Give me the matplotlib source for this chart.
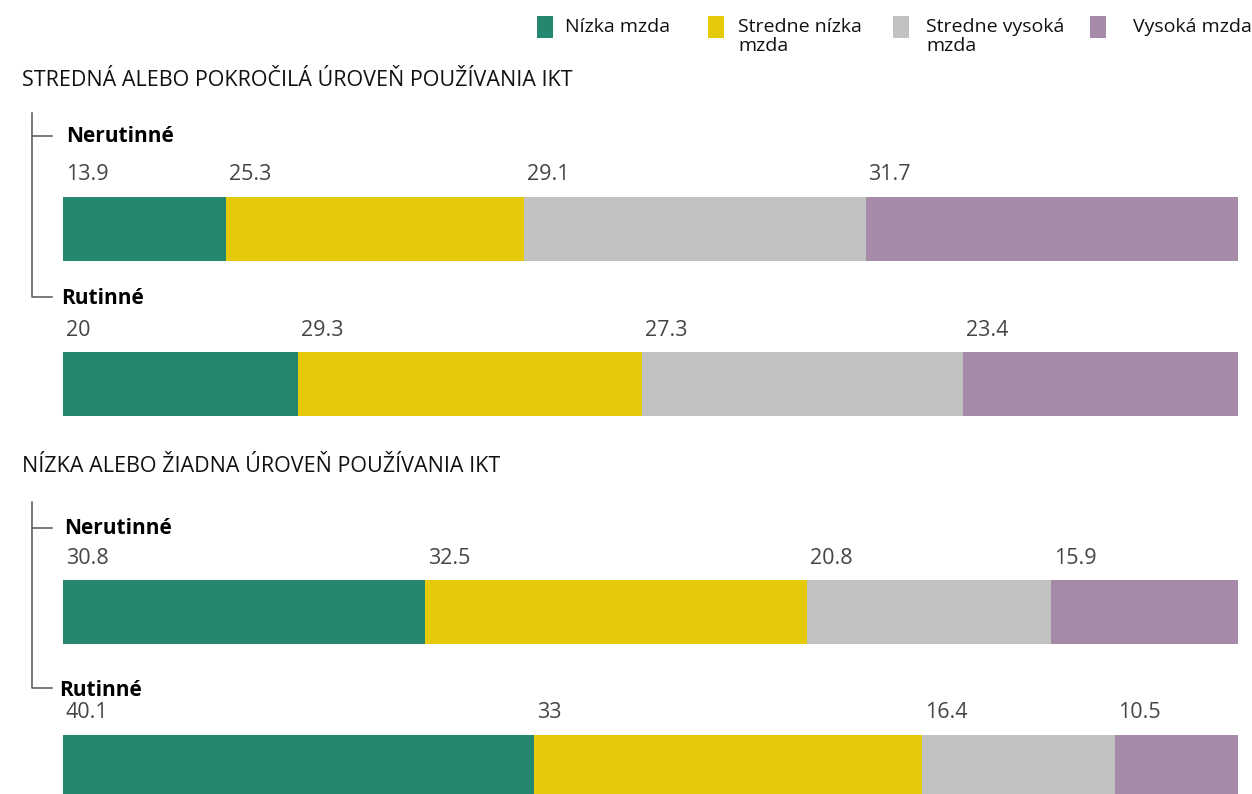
import matplotlib
matplotlib.use("Agg")
import matplotlib.pyplot as plt
import numpy as np
from matplotlib.patches import Rectangle

plt.rcParams["font.family"] = ["Open Sans", "DejaVu Sans"]

# Wage group shares (%) for each bar, top to bottom
SERIES = ["Nízka mzda", "Stredne nízka\nmzda", "Stredne vysoká\nmzda", "Vysoká mzda"]
COLORS = ["#25876f", "#e5c90b", "#c2c2c2", "#a68ba9"]
GROUP_LABELS = ["Nerutinné", "Rutinné", "Nerutinné", "Rutinné"]
SECTION_TITLES = [
    "STREDNÁ ALEBO POKROČILÁ ÚROVEŇ POUŽÍVANIA IKT",
    "NÍZKA ALEBO ŽIADNA ÚROVEŇ POUŽÍVANIA IKT",
]
low_wage = [13.9, 20.0, 30.8, 40.1]
mid_low_wage = [25.3, 29.3, 32.5, 33.0]
mid_high_wage = [29.1, 27.3, 20.8, 16.4]
high_wage = [31.7, 23.4, 15.9, 10.5]
value_text = [
    ["13.9", "25.3", "29.1", "31.7"],
    ["20", "29.3", "27.3", "23.4"],
    ["30.8", "32.5", "20.8", "15.9"],
    ["40.1", "33", "16.4", "10.5"],
]

# layout in pixel units (figure is 1252 x 794 px)
W, H = 1252, 794
BAR_LEFT, BAR_RIGHT = 63, 1238
BAR_CENTERS = [229, 384, 612, 767]
BAR_HEIGHT = 64
LABEL_GAP = 22
GROUP_LABEL_POS = [(66, 136), (61, 298), (64, 528), (59, 691)]
SECTION_POS = [(22, 81), (22, 467)]
BRACKETS = [(113, 136, 297), (502, 528, 688)]
LEGEND_POS = [(537, 565), (708, 738), (893, 926), (1090, 1133)]

fig = plt.figure(figsize=(W / 100, H / 100), dpi=100)

# canvas axes for free text and guide lines, in pixel coordinates
canvas = fig.add_axes([0, 0, 1, 1])
canvas.set_xlim(0, W)
canvas.set_ylim(H, 0)
canvas.axis("off")

# bar axes: x in percent, y in pixel rows
ax = fig.add_axes([BAR_LEFT / W, 0, (BAR_RIGHT - BAR_LEFT) / W, 1])
ax.set_xlim(0, 100)
ax.set_ylim(H, 0)
ax.axis("off")

data = np.array([low_wage, mid_low_wage, mid_high_wage, high_wage])
lefts = np.zeros(len(BAR_CENTERS))
for i, (vals, color) in enumerate(zip(data, COLORS)):
    ax.barh(BAR_CENTERS, vals, left=lefts, height=BAR_HEIGHT, color=color, linewidth=0)
    for j, (left, y) in enumerate(zip(lefts, BAR_CENTERS)):
        ax.text(left + 0.25, y - BAR_HEIGHT / 2 - LABEL_GAP, value_text[j][i],
                ha="left", va="center", fontsize=15.5, color="#454545")
    lefts = lefts + vals

for title, (x, y) in zip(SECTION_TITLES, SECTION_POS):
    canvas.text(x, y, title, ha="left", va="center", fontsize=15.5, color="#111111")

for label, (x, y) in zip(GROUP_LABELS, GROUP_LABEL_POS):
    canvas.text(x, y, label, ha="left", va="center", fontsize=15, fontweight="bold", color="black")

for top, first, last in BRACKETS:
    canvas.plot([32, 32, 52], [top, last, last], color="#555555", linewidth=1.1)
    canvas.plot([32, 52], [first, first], color="#555555", linewidth=1.1)

# legend
for name, color, (px, tx) in zip(SERIES, COLORS, LEGEND_POS):
    canvas.add_patch(Rectangle((px, 16), 16, 22, color=color, linewidth=0))
    canvas.text(tx, 18, name, ha="left", va="top", fontsize=14, color="#111111",
                linespacing=1.1)

fig.savefig("out.png", dpi=100)
